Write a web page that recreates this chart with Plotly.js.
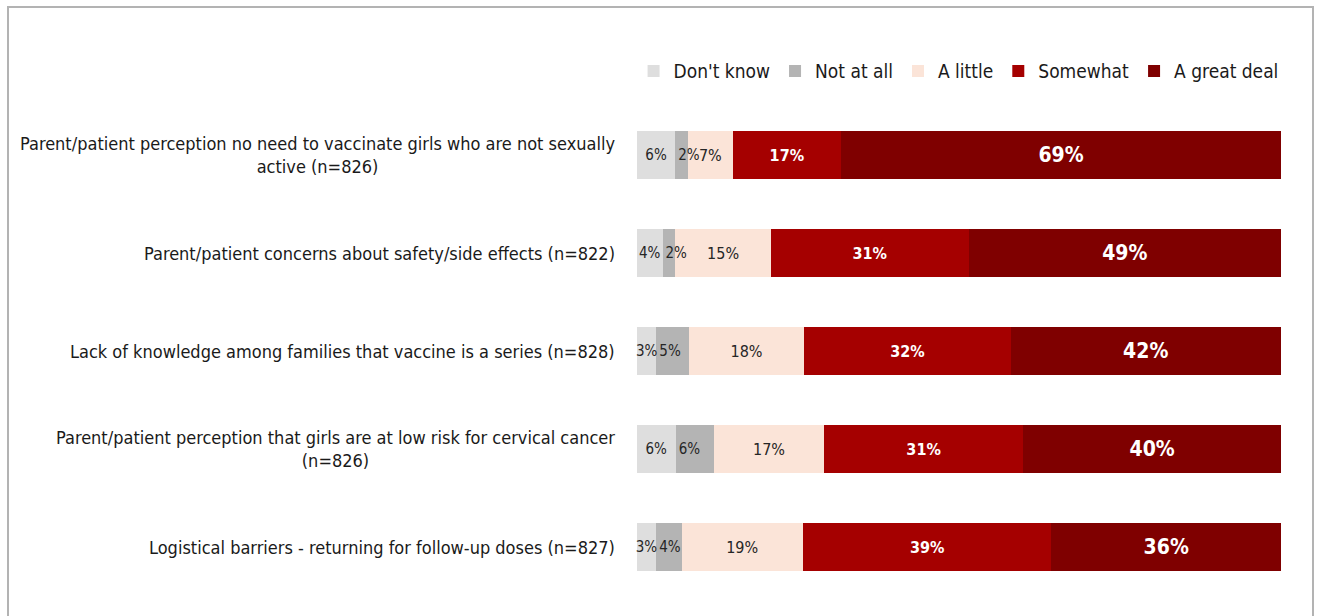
<!DOCTYPE html>
<html>
<head>
<meta charset="utf-8">
<script src="https://cdn.plot.ly/plotly-3.0.1.min.js"></script>
<style>
  html, body { margin: 0; padding: 0; background: #ffffff; overflow: hidden; }
  #wrap { position: relative; width: 1318px; height: 616px; overflow: hidden; }
  #chart { position: absolute; left: 0; top: 0; width: 1318px; height: 616px; }
  #frame { position: absolute; left: 7px; top: 6px; width: 1303px; height: 640px;
           border: 2px solid #b3b3b3; pointer-events: none; }
</style>
</head>
<body>
<div id="wrap">
  <div id="chart"></div>
  <div id="frame"></div>
</div>
<script>
const categories = [
  "Parent/patient perception no need to vaccinate girls who are not sexually<br>active (n=826)",
  "Parent/patient concerns about safety/side effects (n=822)",
  "Lack of knowledge among families that vaccine is a series (n=828)",
  "Parent/patient perception that girls are at low risk for cervical cancer<br>(n=826)",
  "Logistical barriers - returning for follow-up doses (n=827)"
];
const seriesNames = ["Don't know", "Not at all", "A little", "Somewhat", "A great deal"];
const dontKnow  = [6, 4, 3, 6, 3];
const notAtAll  = [2, 2, 5, 6, 4];
const aLittle   = [7, 15, 18, 17, 19];
const somewhat  = [17, 31, 32, 31, 39];
const greatDeal = [69, 49, 42, 40, 36];

const FONT = "'Liberation Sans Narrow', 'Arial Narrow', 'DejaVu Sans Condensed', sans-serif";
const seriesValues = [dontKnow, notAtAll, aLittle, somewhat, greatDeal];
const colors = ["#dedede", "#b4b4b4", "#fbe4d8", "#a50000", "#7f0000"];
// x axis is reversed and traces are stacked from the right, so "end" = left edge of a segment
const textAnchors = ["middle", "end", "middle", "middle", "middle"];
const textFonts = [
  {family: FONT, size: 15, color: "#262626"},
  {family: FONT, size: 15, color: "#262626"},
  {family: FONT, size: 16, color: "#262626"},
  {family: FONT, size: 16, color: "#ffffff", weight: "bold"},
  {family: FONT, size: 21, color: "#ffffff", weight: "bold"}
];

const traces = seriesValues.map((vals, i) => ({
  type: "bar",
  orientation: "h",
  name: seriesNames[i],
  y: categories,
  x: vals,
  text: vals.map(v => v + "%"),
  textposition: "inside",
  insidetextanchor: textAnchors[i],
  constraintext: "none",
  textangle: 0,
  cliponaxis: false,
  textfont: textFonts[i],
  insidetextfont: textFonts[i],
  marker: {color: colors[i], line: {width: 0}},
  hoverinfo: "skip"
})).reverse();   // draw small grey segments last so their labels stay on top

const annotations = categories.map(c => ({
  x: 0, xref: "paper", xanchor: "right", xshift: -20,
  y: c, yref: "y", yanchor: "middle",
  text: c, showarrow: false, align: "center",
  font: {family: FONT, size: 18, color: "#1a1a1a"}
}));

const layout = {
  width: 1318, height: 616,
  margin: {l: 637, r: 37, t: 106, b: 20},
  paper_bgcolor: "#ffffff", plot_bgcolor: "#ffffff",
  barmode: "stack",
  barnorm: "percent",
  bargap: 0.51,
  font: {family: FONT, size: 18, color: "#1a1a1a"},
  xaxis: {range: [100, 0], visible: false, fixedrange: true},
  yaxis: {type: "category", categoryorder: "array", categoryarray: categories,
          autorange: "reversed", showticklabels: false, showgrid: false,
          zeroline: false, showline: false, ticks: "", fixedrange: true},
  showlegend: true,
  legend: {orientation: "h", x: 1.004, xanchor: "right", y: 1.071, yanchor: "middle",
           traceorder: "reversed", itemwidth: 30, itemclick: false, itemdoubleclick: false,
           font: {family: FONT, size: 19, color: "#1a1a1a"}, bgcolor: "rgba(0,0,0,0)"},
  annotations: annotations
};

Plotly.newPlot("chart", traces, layout, {displayModeBar: false, staticPlot: true});
</script>
</body>
</html>
